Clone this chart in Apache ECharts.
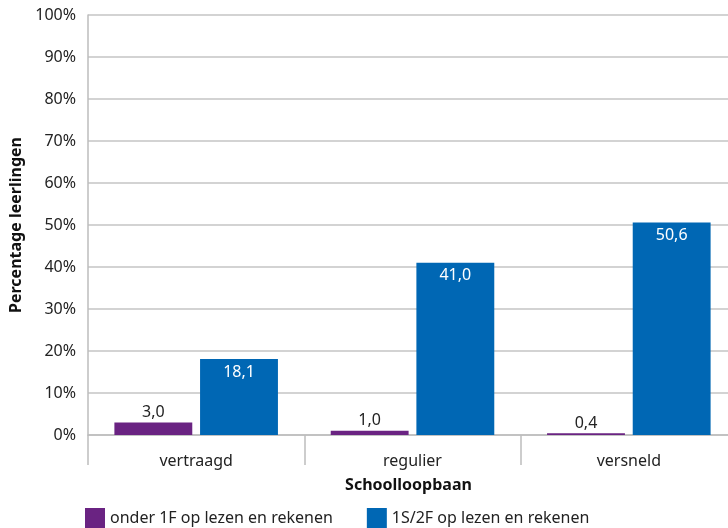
<!DOCTYPE html>
<html>
<head>
<meta charset="utf-8">
<script src="https://cdn.jsdelivr.net/npm/echarts@6/dist/echarts.min.js"></script>
<style>
  html, body { margin: 0; padding: 0; background: #fff; overflow: hidden; }
  #chart { width: 737px; height: 528px; }
</style>
</head>
<body>
<div id="chart"></div>
<script>
// data
const categories = ['vertraagd', 'regulier', 'versneld']
const onder1F = [3.0, 1.0, 0.4]
const niveau1S2F = [18.1, 41.0, 50.6]
const seriesNames = ['onder 1F op lezen en rekenen', '1S/2F op lezen en rekenen']

const font = 'Noto Sans'
const fmt = (p) => p.value.toFixed(1).replace('.', ',')

// chart is a little wider than the window: the right edge is cropped like the original
const chart = echarts.init(document.getElementById('chart'))
chart.setOption({
  animation: false,
  textStyle: { fontFamily: font },
  grid: { left: 88, right: 0, top: 15, bottom: 93, containLabel: false },
  legend: {
    left: 80,
    top: 503,
    icon: 'rect',
    itemWidth: 20,
    itemHeight: 20,
    itemGap: 34,
    textStyle: { fontFamily: font, fontSize: 16, color: '#222' },
    data: seriesNames
  },
  xAxis: {
    type: 'category',
    data: categories,
    name: 'Schoolloopbaan',
    nameLocation: 'middle',
    nameGap: 42,
    nameTextStyle: { fontFamily: font, fontSize: 16, fontWeight: 'bold', color: '#111', padding: [0, 8, 0, 0] },
    axisLine: { lineStyle: { color: '#bdbdbd', width: 1.5 } },
    axisTick: { show: true, length: 30, lineStyle: { color: '#bdbdbd', width: 1.5 } },
    axisLabel: { fontFamily: font, fontSize: 16, color: '#222', margin: 18 }
  },
  yAxis: {
    type: 'value',
    min: 0,
    max: 100,
    interval: 10,
    name: 'Percentage leerlingen',
    nameLocation: 'middle',
    nameGap: 60,
    nameTextStyle: { fontFamily: font, fontSize: 16, fontWeight: 'bold', color: '#111' },
    axisLine: { show: true, lineStyle: { color: '#bdbdbd', width: 1.5 } },
    axisTick: { show: true, length: 0 },
    splitLine: { lineStyle: { color: '#c4c4c4', width: 1.5 } },
    axisLabel: { fontFamily: font, fontSize: 16, color: '#222', margin: 12, formatter: '{value}%' }
  },
  series: [
    {
      name: seriesNames[0],
      type: 'bar',
      data: onder1F,
      barWidth: '36%',
      barGap: '10%',
      itemStyle: { color: '#6a2382' },
      label: { show: true, position: 'top', distance: 2, formatter: fmt, fontFamily: font, fontSize: 16, color: '#222' }
    },
    {
      name: seriesNames[1],
      type: 'bar',
      data: niveau1S2F,
      barWidth: '36%',
      itemStyle: { color: '#0067b4' },
      label: { show: true, position: 'insideTop', distance: 5, formatter: fmt, fontFamily: font, fontSize: 16, color: '#fff' }
    }
  ]
})
</script>
</body>
</html>
